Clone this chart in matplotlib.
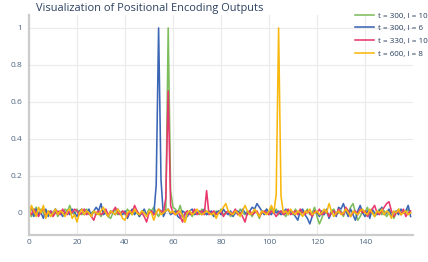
import numpy as np
import matplotlib.pyplot as plt
from matplotlib.ticker import FuncFormatter

#------ datos ----------
x = np.arange(160)

azul = [
    0.01, 0.03, -0.02, 0.02, -0.01, 0.00, -0.03, 0.02, -0.02, 0.01, 0.00, 0.02, -0.01, 0.01, -0.02, 0.00, 0.01, -0.01, 0.02, 0.00,
    -0.02, 0.01, 0.02, -0.01, 0.00, 0.02, -0.02, 0.01, 0.03, 0.01, 0.05, -0.01, 0.00, -0.02, 0.01, 0.00, -0.01, 0.02, 0.00, -0.01,
    0.01, -0.03, 0.00, 0.02, -0.01, 0.01, -0.02, 0.00, 0.02, -0.01, 0.00, 0.01, -0.01, 0.15, 1.00, 0.18, -0.02, 0.01, 0.02, -0.01,
    0.00, 0.01, -0.02, -0.03, 0.01, 0.00, -0.02, 0.01, 0.02, -0.01, 0.00, 0.01, -0.01, 0.02, -0.01, 0.00, 0.01, -0.02, 0.00, 0.01,
    -0.01, 0.02, 0.00, -0.01, 0.01, -0.02, 0.00, 0.01, -0.01, 0.02, 0.00, -0.01, 0.01, 0.03, 0.02, 0.05, 0.03, 0.01, -0.01, 0.02,
    0.00, -0.01, 0.02, 0.00, 0.01, -0.01, 0.00, 0.02, -0.01, 0.01, 0.00, -0.02, -0.04, 0.01, 0.02, -0.01, -0.03, -0.06, -0.02, 0.01,
    0.00, -0.02, 0.01, -0.01, 0.02, -0.03, 0.00, 0.01, -0.02, 0.03, 0.02, 0.05, 0.01, -0.02, 0.02, -0.01, -0.04, 0.01, 0.04, 0.00,
    -0.02, 0.01, -0.03, 0.02, 0.00, -0.01, 0.01, 0.03, -0.01, 0.00, 0.02, -0.02, 0.00, 0.01, -0.01, 0.02, 0.00, 0.01, 0.04, -0.02,
]

verde = [
    0.00, -0.02, 0.01, 0.03, -0.01, 0.02, 0.00, -0.02, 0.01, 0.00, -0.01, 0.02, -0.02, 0.01, 0.00, 0.02, 0.01, 0.04, 0.00, -0.01,
    0.02, 0.00, -0.01, 0.01, 0.02, -0.01, 0.00, 0.01, -0.01, 0.00, -0.02, 0.01, 0.00, -0.02, -0.03, 0.00, 0.02, -0.01, 0.00, 0.01,
    -0.01, 0.02, 0.00, -0.01, 0.01, 0.00, -0.02, 0.01, 0.00, -0.01, 0.02, 0.01, 0.03, 0.00, -0.02, 0.01, -0.01, 0.02, 1.00, 0.12,
    0.03, 0.02, 0.00, 0.04, -0.01, -0.05, 0.01, 0.00, -0.02, 0.01, 0.00, -0.01, 0.02, 0.00, -0.01, 0.01, 0.00, -0.02, 0.01, 0.00,
    0.02, -0.01, 0.00, 0.01, -0.02, 0.00, 0.01, -0.01, 0.02, 0.00, -0.01, 0.01, 0.00, -0.02, 0.01, 0.00, -0.03, 0.01, 0.00, 0.02,
    -0.01, 0.03, 0.00, 0.02, -0.01, 0.01, 0.00, -0.02, 0.01, 0.00, -0.01, 0.02, 0.00, -0.01, 0.01, 0.00, 0.02, -0.01, 0.00, 0.03,
    -0.02, -0.06, -0.03, 0.01, 0.00, -0.02, 0.01, 0.02, -0.01, 0.00, 0.01, -0.02, 0.02, 0.00, 0.03, 0.05, 0.00, -0.04, -0.02, 0.01,
    0.00, 0.03, -0.01, 0.01, -0.02, 0.00, 0.02, -0.01, 0.01, -0.02, 0.00, 0.01, -0.03, 0.00, 0.02, -0.01, 0.01, 0.00, 0.02, 0.00,
]

rosa = [
    0.01, -0.01, 0.02, 0.00, -0.02, 0.01, 0.02, -0.01, 0.00, 0.01, -0.02, 0.00, 0.01, -0.01, 0.02, 0.00, -0.01, 0.01, 0.00, 0.02,
    0.01, -0.01, 0.00, 0.02, -0.01, 0.00, -0.02, -0.04, 0.00, 0.01, -0.01, 0.00, 0.02, -0.01, 0.00, 0.01, 0.03, 0.00, -0.01, 0.01,
    0.00, -0.02, 0.01, 0.00, 0.04, 0.01, -0.01, 0.00, -0.02, -0.05, 0.00, 0.01, -0.01, 0.00, 0.02, 0.01, 0.00, 0.08, 0.66, 0.04,
    0.00, -0.01, 0.01, -0.02, -0.05, 0.00, 0.01, -0.01, 0.00, 0.02, -0.01, 0.00, 0.01, -0.01, 0.12, -0.01, 0.00, 0.01, -0.01, 0.00,
    0.01, -0.02, 0.00, 0.01, -0.01, 0.00, 0.02, -0.01, 0.00, -0.02, -0.05, 0.00, 0.01, -0.01, 0.00, 0.01, -0.02, 0.00, 0.01, 0.00,
    -0.01, 0.01, 0.00, -0.02, 0.00, 0.01, -0.01, 0.00, 0.02, -0.01, 0.00, 0.01, -0.01, 0.02, 0.00, -0.01, 0.01, 0.00, -0.02, 0.01,
    0.00, 0.02, -0.01, 0.00, 0.01, -0.02, 0.00, 0.01, -0.01, 0.02, 0.00, -0.01, 0.03, 0.01, -0.02, 0.00, 0.01, -0.01, 0.02, 0.00,
    0.01, -0.02, 0.00, 0.02, 0.04, 0.00, -0.01, 0.01, 0.03, 0.05, 0.06, 0.01, -0.02, 0.00, 0.01, -0.01, 0.02, -0.02, 0.00, 0.01,
]

amarillo = [
    -0.03, 0.04, 0.01, -0.02, 0.03, 0.00, 0.04, -0.03, 0.01, -0.02, 0.00, 0.02, -0.01, 0.01, 0.00, -0.02, 0.01, 0.02, -0.03, -0.01,
    -0.05, 0.00, 0.02, -0.01, 0.01, 0.00, -0.02, 0.01, 0.00, -0.01, 0.01, 0.03, 0.00, -0.02, 0.01, 0.00, -0.01, 0.02, 0.00, -0.03,
    -0.04, 0.00, 0.01, -0.01, 0.02, 0.00, -0.01, 0.01, 0.00, -0.02, 0.01, 0.00, -0.04, 0.00, 0.02, -0.01, 0.00, 0.01, 0.02, 0.00,
    0.01, -0.01, 0.00, 0.01, -0.02, -0.05, 0.00, 0.01, -0.01, 0.00, 0.02, 0.00, -0.01, 0.00, 0.01, 0.00, -0.01, 0.00, -0.03, 0.00,
    0.01, 0.03, 0.05, 0.01, 0.00, -0.01, 0.01, 0.00, -0.02, 0.01, 0.04, 0.01, -0.01, 0.00, 0.02, 0.00, -0.02, 0.01, 0.00, -0.01,
    0.01, 0.04, 0.00, 0.10, 1.00, 0.09, 0.00, 0.01, -0.01, 0.02, 0.00, -0.01, 0.01, 0.00, -0.02, 0.01, 0.00, 0.02, -0.01, 0.00,
    0.01, -0.01, 0.00, 0.02, 0.00, 0.05, 0.01, -0.02, 0.00, 0.01, -0.01, 0.00, 0.02, 0.00, -0.02, 0.01, 0.00, -0.01, 0.01, 0.02,
    0.00, -0.01, 0.02, 0.00, -0.02, 0.01, 0.00, 0.02, -0.01, 0.01, 0.00, -0.03, 0.01, 0.00, 0.02, -0.01, 0.00, 0.01, -0.01, 0.00,
]

series = [verde, azul, rosa, amarillo]
etiquetas = ['t = 300, l = 10', 't = 300, l = 6', 't = 330, l = 10', 't = 600, l = 8']
colores = ['#7dbd5c', '#3b66b5', '#e8386d', '#f9b80e']

#------ graficar ----------
plt.rcParams['font.family'] = ['Open Sans', 'DejaVu Sans']
texto = '#2a3f5f'

fig = plt.figure(figsize=(4.28, 2.62), dpi=100)
ax = fig.add_axes([29/428, 1 - 235/262, 384/428, 220/262])

for ys, lab, col in zip(series, etiquetas, colores):
    ax.plot(x, ys, color=col, lw=1.15, label=lab)

ax.set_xlim(0, 160)
ax.set_ylim(-0.12, 1.07)
ax.set_xticks(range(0, 160, 20))
ax.set_yticks([0, 0.2, 0.4, 0.6, 0.8, 1])
ax.yaxis.set_major_formatter(FuncFormatter(lambda v, p: '%g' % v))
ax.grid(True, color='#ebebeb', lw=0.8)
ax.set_axisbelow(True)
for s in ['top', 'right']:
    ax.spines[s].set_visible(False)
for s in ['left', 'bottom']:
    ax.spines[s].set_color('#cccccc')
    ax.spines[s].set_linewidth(1.6)
ax.tick_params(length=0, labelsize=6, labelcolor='#506784')
ax.tick_params(axis='y', pad=5)
ax.tick_params(axis='x', pad=3)

fig.text(36/428, 1 - 8/262, 'Visualization of Positional Encoding Outputs',
         fontsize=7.9, color=texto, va='center', ha='left')

fig.legend(loc='upper left', bbox_to_anchor=(355/428, 1 - 12/262),
           fontsize=5.8, frameon=False, handlelength=2.4, handletextpad=0.5,
           labelspacing=0.62, borderaxespad=0, borderpad=0, labelcolor=texto)

fig.savefig('out.png', dpi=100)
